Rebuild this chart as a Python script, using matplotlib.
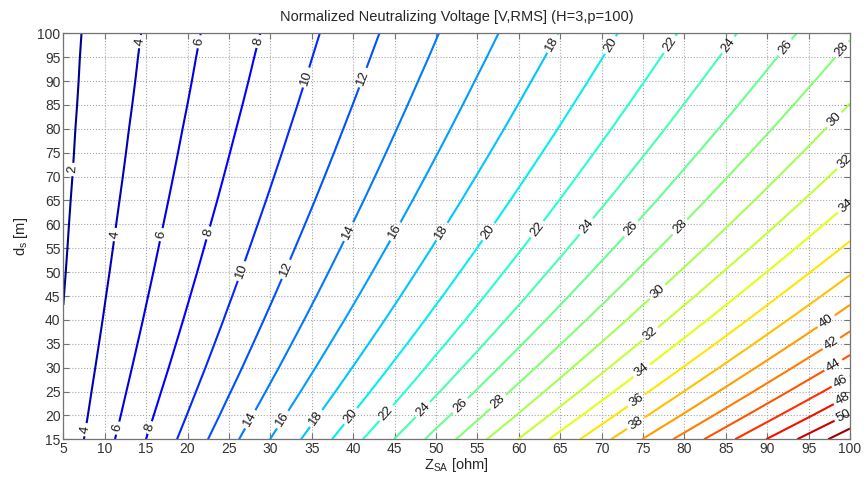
import numpy as np
import matplotlib
matplotlib.use("Agg")
import matplotlib.pyplot as plt

plt.rcParams['font.family'] = ['Liberation Sans', 'DejaVu Sans']
plt.rcParams['mathtext.default'] = 'regular'

# Surge arrester impedance Z_SA [ohm] (columns) and distance d_s [m] (rows)
z_sa = np.array([5, 25, 50, 75, 100])
d_s = np.arange(15, 101, 5)

# Normalized neutralizing voltage [V, RMS], one row per d_s value
voltage = np.array([
    [2.67, 13.35, 26.71, 40.06, 53.41],
    [2.51, 12.57, 25.14, 37.71, 50.28],
    [2.38, 11.89, 23.77, 35.66, 47.54],
    [2.26, 11.28, 22.57, 33.85, 45.13],
    [2.15, 10.75, 21.50, 32.24, 42.99],
    [2.05, 10.27, 20.54, 30.81, 41.08],
    [1.97, 9.84, 19.68, 29.52, 39.36],
    [1.89, 9.45, 18.91, 28.36, 37.81],
    [1.82, 9.10, 18.20, 27.29, 36.39],
    [1.76, 8.78, 17.55, 26.33, 35.10],
    [1.70, 8.48, 16.96, 25.44, 33.92],
    [1.64, 8.21, 16.42, 24.63, 32.84],
    [1.59, 7.96, 15.92, 23.88, 31.84],
    [1.55, 7.73, 15.46, 23.18, 30.91],
    [1.50, 7.51, 15.03, 22.54, 30.05],
    [1.46, 7.31, 14.63, 21.94, 29.25],
    [1.43, 7.13, 14.25, 21.38, 28.50],
    [1.39, 6.95, 13.90, 20.85, 27.80],
])

levels = np.arange(2, 53, 2)

# Where the contour labels sit (Z_SA, d_s)
label_spots = [
    (6.0, 71.5),
    (14.5, 98.2), (11.45, 57.8), (7.74, 17.0),
    (21.5, 98.2), (16.96, 57.8), (11.65, 17.3),
    (28.75, 98.2), (22.7, 58.1), (15.7, 17.3),
    (34.4, 90.7), (26.7, 50.1),
    (41.2, 90.7), (32.0, 50.5),
    (39.4, 58.5), (27.75, 19.0),
    (45.1, 58.5), (31.6, 19.0),
    (64.2, 97.7), (50.7, 58.5), (35.8, 19.0),
    (70.9, 97.7), (56.3, 58.5), (39.8, 19.7),
    (78.2, 97.7), (62.2, 59.0), (44.06, 20.4),
    (85.2, 97.7), (68.2, 59.5), (48.5, 21.1),
    (92.2, 97.0), (73.7, 58.9), (53.1, 21.8),
    (99.0, 96.6), (79.6, 59.2), (57.7, 22.5),
    (98.3, 81.6), (76.9, 45.6),
    (99.3, 73.2), (76.1, 36.5),
    (99.4, 64.1), (75.1, 28.8),
    (74.3, 22.9),
    (74.1, 18.4),
    (97.4, 39.0), (98.0, 34.4), (98.2, 29.9),
    (99.0, 26.7), (99.2, 23.2), (99.5, 19.0),
]

fig = plt.figure(figsize=(8.64, 4.78), dpi=100)
ax = fig.add_axes([0.0733, 0.081, 0.9105, 0.8493])

X, Y = np.meshgrid(z_sa, d_s)
cs = ax.contour(X, Y, voltage, levels=levels, cmap='jet',
                vmin=voltage.min(), vmax=voltage.max(), linewidths=1.5)
ax.clabel(cs, manual=label_spots, inline=True, inline_spacing=3,
          fontsize=9.5, fmt='%d', colors='0.1')

ax.set_xlim(5, 100)
ax.set_ylim(15, 100)
ax.set_xticks(np.arange(5, 101, 5))
ax.set_yticks(np.arange(15, 101, 5))
ax.grid(True, linestyle=':', color='0.65', linewidth=0.8)
ax.tick_params(direction='in', top=True, right=True, length=4,
               width=0.8, color='0.45', labelsize=10, labelcolor='0.2', pad=2)
for s in ax.spines.values():
    s.set_color('0.45')
    s.set_linewidth(0.9)

ax.set_xlabel('Z$_{SA}$ [ohm]', fontsize=10.5, color='0.15', labelpad=0)
ax.set_ylabel('d$_s$ [m]', fontsize=10.5, color='0.15', labelpad=5)
ax.set_title('Normalized Neutralizing Voltage [V,RMS] (H=3,p=100)',
             fontsize=10.5, color='0.15', pad=9)

fig.savefig('out.png', dpi=100, facecolor='white')
